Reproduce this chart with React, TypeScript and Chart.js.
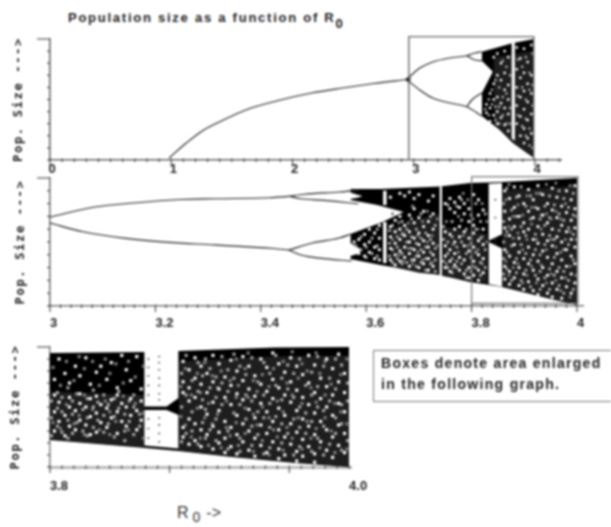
import React, { useEffect, useRef } from "react";
import { Chart, registerables } from "chart.js";

Chart.register(...registerables);

type P = [number, number];

// ---------- top panel (R0 0..4) ----------
const topTickValues = [0, 1, 2, 3, 4];
const topTickLabels = ["0", "1", "2", "3", "4"];
const topTrunk: P[] = [[0.983, 0.017], [1.124, 0.14], [1.256, 0.24], [1.413, 0.322], [1.636, 0.421], [1.901, 0.496], [2.157, 0.554], [2.413, 0.595], [2.669, 0.632], [2.942, 0.665]];
const topFork: P[] = [[2.955, 0.665]];
const topUpperA: P[] = [[2.942, 0.665], [3.05, 0.76], [3.157, 0.81], [3.298, 0.843], [3.438, 0.862], [3.504, 0.884], [3.562, 0.895]];
const topUpperB: P[] = [[3.438, 0.862], [3.504, 0.826], [3.562, 0.821]];
const topLowerA: P[] = [[2.942, 0.665], [3.05, 0.579], [3.157, 0.512], [3.298, 0.471], [3.438, 0.44], [3.562, 0.364]];
const topLowerB: P[] = [[3.438, 0.44], [3.479, 0.496], [3.562, 0.554]];
const topBandHigh: P[] = [[3.562, 0.895], [3.711, 0.936], [3.818, 0.967], [3.992, 1]];
const topBandLow: P[] = [[3.562, 0.364], [3.711, 0.248], [3.818, 0.14], [3.992, 0.017]];
const topLightHigh: P[] = [[3.66, 0.85], [3.99, 0.9]];
const topLightLow: P[] = [[3.66, 0.29], [3.711, 0.25], [3.818, 0.145], [3.99, 0.02]];
const topNotchHigh: P[] = [[3.55, 0.83], [3.562, 0.821], [3.653, 0.73]];
const topNotchLow: P[] = [[3.55, 0.545], [3.562, 0.554], [3.653, 0.73]];
const topWindowHigh: P[] = [[3.806, 0.98], [3.835, 0.98]];
const topWindowLow: P[] = [[3.806, 0.18], [3.835, 0.16]];
const topFrame: P[] = [[2.96, 0], [2.96, 1.02], [3.99, 1.02], [3.99, 0]];
const topSpecks: number[][] = [
  [3.6, 0.46, 0.39], [3.63, 0.55, 0.43, 0.32], [3.66, 0.85, 0.63, 0.5, 0.37], [3.69, 0.88, 0.7, 0.52, 0.4, 0.3],
  [3.72, 0.8, 0.66, 0.47, 0.35], [3.75, 0.9, 0.72, 0.58, 0.43, 0.29], [3.78, 0.85, 0.62, 0.5, 0.38, 0.24],
  [3.85, 0.93, 0.75, 0.6, 0.45, 0.3], [3.88, 0.84, 0.68, 0.52, 0.36, 0.2], [3.91, 0.92, 0.72, 0.57, 0.42, 0.26, 0.14],
  [3.94, 0.81, 0.63, 0.48, 0.33, 0.18], [3.97, 0.95, 0.7, 0.55, 0.38, 0.22],
];
const topSpecksDim: number[][] = [
  [3.59, 0.42], [3.62, 0.5, 0.37], [3.645, 0.58, 0.46], [3.675, 0.66, 0.44, 0.33], [3.705, 0.6, 0.44, 0.3],
  [3.735, 0.82, 0.52, 0.37], [3.765, 0.77, 0.55, 0.3], [3.795, 0.7, 0.43, 0.3], [3.86, 0.83, 0.53, 0.37],
  [3.895, 0.77, 0.6, 0.28], [3.925, 0.85, 0.5, 0.34, 0.2], [3.955, 0.72, 0.58, 0.26, 0.12], [3.98, 0.88, 0.62, 0.45, 0.1],
];

// ---------- middle panel (R0 3..4) ----------
const midTickValues = [3, 3.2, 3.4, 3.6, 3.8, 4];
const midTickLabels = ["3", "3.2", "3.4", "3.6", "3.8", "4"];
const midUpper: P[] = [[3, 0.695], [3.085, 0.773], [3.165, 0.807], [3.239, 0.83], [3.313, 0.838], [3.417, 0.846], [3.453, 0.857]];
const midUpperUp: P[] = [[3.453, 0.857], [3.483, 0.873], [3.549, 0.891], [3.585, 0.904]];
const midUpperDown: P[] = [[3.453, 0.857], [3.476, 0.838], [3.52, 0.825], [3.565, 0.807], [3.585, 0.797]];
const midLower: P[] = [[3, 0.648], [3.063, 0.58], [3.144, 0.528], [3.225, 0.497], [3.313, 0.477], [3.424, 0.449], [3.453, 0.437]];
const midLowerUp: P[] = [[3.453, 0.437], [3.498, 0.492], [3.549, 0.531], [3.572, 0.5625]];
const midLowerDown: P[] = [[3.453, 0.437], [3.476, 0.398], [3.52, 0.37], [3.572, 0.352]];
const midBandHigh: P[] = [[3.57, 0.914], [3.627, 0.914], [3.74, 0.934], [3.797, 0.961], [3.858, 0.969], [4, 1]];
const midBandLow: P[] = [[3.57, 0.367], [3.627, 0.32], [3.74, 0.242], [3.797, 0.1875], [3.858, 0.148], [3.958, 0.047], [4, 0.008]];
const midLightAHigh: P[] = [[3.645, 0.6], [3.7, 0.68], [3.739, 0.72]];
const midLightALow: P[] = [[3.645, 0.31], [3.7, 0.26], [3.739, 0.245]];
const midLightBHigh: P[] = [[3.745, 0.62], [3.83, 0.56]];
const midLightBLow: P[] = [[3.745, 0.235], [3.83, 0.18]];
const midLightCHigh: P[] = [[3.858, 0.9], [4, 0.94]];
const midLightCLow: P[] = [[3.858, 0.15], [3.958, 0.05], [4, 0.012]];
const midNotchHigh: P[] = [[3.56, 0.835], [3.57, 0.828], [3.621, 0.789], [3.671, 0.734]];
const midNotchLow: P[] = [[3.56, 0.55], [3.57, 0.5625], [3.631, 0.656], [3.671, 0.734]];
const midHoleAHigh: P[] = [[3.56, 0.895], [3.57, 0.887], [3.585, 0.867], [3.593, 0.859]];
const midHoleALow: P[] = [[3.56, 0.83], [3.57, 0.836], [3.585, 0.848], [3.593, 0.859]];
const midHoleBHigh: P[] = [[3.56, 0.5], [3.57, 0.492], [3.583, 0.461], [3.593, 0.4375]];
const midHoleBLow: P[] = [[3.56, 0.38], [3.57, 0.39], [3.583, 0.406], [3.593, 0.4375]];
const midWinAHigh: P[] = [[3.632, 0.9], [3.639, 0.9]];
const midWinALow: P[] = [[3.632, 0.79], [3.639, 0.79]];
const midWinBHigh: P[] = [[3.632, 0.656], [3.639, 0.656]];
const midWinBLow: P[] = [[3.632, 0.336], [3.639, 0.336]];
const midWinCHigh: P[] = [[3.739, 0.935], [3.744, 0.935]];
const midWinCLow: P[] = [[3.739, 0.24], [3.744, 0.24]];
const midWinDHigh: P[] = [[3.832, 0.955], [3.858, 0.96]];
const midWinDLow: P[] = [[3.832, 0.51], [3.858, 0.56]];
const midWinEHigh: P[] = [[3.832, 0.5], [3.858, 0.45]];
const midWinELow: P[] = [[3.832, 0.172], [3.858, 0.15]];
const midFrame: P[] = [[3.8, 0], [3.8, 1.01], [4.002, 1.01], [4.002, 0.02], [3.8, 0.02]];
const midDots: P[] = [[3.845, 0.83], [3.845, 0.69], [3.845, 0.52], [3.845, 0.49]];
const midSpecks: number[][] = [
  [3.577, 0.5, 0.43], [3.586, 0.52, 0.41], [3.597, 0.56, 0.48, 0.39], [3.606, 0.6, 0.5, 0.42], [3.616, 0.57, 0.46, 0.37],
  [3.625, 0.63, 0.53, 0.44, 0.36], [3.646, 0.62, 0.54, 0.45, 0.36, 0.85], [3.655, 0.67, 0.58, 0.49, 0.4, 0.32],
  [3.664, 0.7, 0.6, 0.52, 0.43, 0.35, 0.88], [3.673, 0.63, 0.55, 0.46, 0.38, 0.86], [3.682, 0.71, 0.58, 0.5, 0.41, 0.31, 0.89],
  [3.691, 0.76, 0.65, 0.53, 0.44, 0.36, 0.84], [3.7, 0.69, 0.57, 0.48, 0.39, 0.3, 0.87], [3.709, 0.74, 0.62, 0.51, 0.42, 0.33],
  [3.718, 0.66, 0.55, 0.46, 0.37, 0.28, 0.82], [3.727, 0.72, 0.6, 0.49, 0.4, 0.31, 0.86], [3.75, 0.8, 0.58, 0.47, 0.39, 0.3],
  [3.759, 0.84, 0.76, 0.56, 0.44, 0.35, 0.27], [3.768, 0.81, 0.73, 0.6, 0.5, 0.41, 0.32], [3.777, 0.85, 0.77, 0.62, 0.54, 0.38, 0.28],
  [3.786, 0.8, 0.72, 0.58, 0.47, 0.36, 0.25], [3.795, 0.76, 0.66, 0.53, 0.43, 0.3, 0.22], [3.804, 0.87, 0.63, 0.57, 0.46, 0.35, 0.24],
  [3.813, 0.83, 0.71, 0.51, 0.4, 0.28, 0.2], [3.822, 0.75, 0.6, 0.48, 0.37, 0.26], [3.863, 0.9, 0.74, 0.61, 0.44, 0.31, 0.21],
  [3.872, 0.84, 0.68, 0.55, 0.39, 0.27, 0.17], [3.881, 0.93, 0.77, 0.62, 0.48, 0.34, 0.22], [3.89, 0.86, 0.7, 0.53, 0.42, 0.3, 0.16],
  [3.899, 0.8, 0.65, 0.58, 0.37, 0.25, 0.13], [3.908, 0.91, 0.74, 0.6, 0.46, 0.33, 0.19], [3.917, 0.83, 0.69, 0.52, 0.4, 0.28, 0.12],
  [3.926, 0.94, 0.76, 0.62, 0.49, 0.35, 0.21, 0.09], [3.935, 0.87, 0.71, 0.56, 0.43, 0.3, 0.16], [3.944, 0.8, 0.65, 0.51, 0.38, 0.24, 0.1],
  [3.953, 0.92, 0.75, 0.6, 0.47, 0.33, 0.18, 0.07], [3.962, 0.85, 0.69, 0.54, 0.41, 0.27, 0.13], [3.971, 0.78, 0.63, 0.5, 0.36, 0.22, 0.06],
  [3.98, 0.9, 0.73, 0.58, 0.44, 0.31, 0.15], [3.989, 0.83, 0.67, 0.52, 0.39, 0.25, 0.1], [3.996, 0.94, 0.76, 0.61, 0.46, 0.33, 0.18],
];
const midSpecksDim: number[][] = [
  [3.58, 0.47], [3.59, 0.54, 0.44], [3.6, 0.46, 0.38], [3.611, 0.53, 0.41], [3.621, 0.6, 0.47, 0.39],
  [3.644, 0.59, 0.49, 0.39], [3.65, 0.63, 0.44, 0.34], [3.659, 0.54, 0.46, 0.37], [3.668, 0.66, 0.56, 0.41, 0.33],
  [3.677, 0.6, 0.5, 0.34], [3.686, 0.68, 0.54, 0.45, 0.36], [3.695, 0.6, 0.49, 0.39, 0.31], [3.704, 0.72, 0.53, 0.44, 0.34],
  [3.713, 0.57, 0.46, 0.37, 0.28], [3.722, 0.7, 0.52, 0.42, 0.33], [3.731, 0.63, 0.45, 0.36, 0.27],
  [3.747, 0.62, 0.52, 0.35], [3.755, 0.79, 0.5, 0.41, 0.3], [3.763, 0.66, 0.54, 0.37, 0.26], [3.772, 0.78, 0.46, 0.35, 0.3],
  [3.781, 0.83, 0.67, 0.5, 0.33], [3.79, 0.6, 0.41, 0.28, 0.22], [3.799, 0.71, 0.49, 0.38, 0.27], [3.808, 0.8, 0.6, 0.42, 0.3],
  [3.817, 0.66, 0.53, 0.34, 0.24], [3.826, 0.72, 0.44, 0.3],
  [3.861, 0.8, 0.66, 0.5, 0.37, 0.25], [3.867, 0.92, 0.58, 0.42, 0.29], [3.876, 0.75, 0.6, 0.47, 0.2], [3.885, 0.85, 0.7, 0.37, 0.26],
  [3.894, 0.93, 0.62, 0.48, 0.2], [3.903, 0.78, 0.55, 0.41, 0.28], [3.912, 0.86, 0.68, 0.36, 0.15], [3.921, 0.77, 0.56, 0.44, 0.24],
  [3.93, 0.88, 0.68, 0.4, 0.27, 0.13], [3.939, 0.78, 0.63, 0.48, 0.22], [3.948, 0.86, 0.69, 0.55, 0.29, 0.13], [3.957, 0.79, 0.52, 0.38, 0.24],
  [3.966, 0.9, 0.72, 0.59, 0.3, 0.16], [3.975, 0.84, 0.67, 0.44, 0.27, 0.1], [3.984, 0.77, 0.61, 0.48, 0.2], [3.993, 0.88, 0.71, 0.56, 0.36, 0.13],
];
const midSpecksExtra: number[][] = [
  [3.65, 0.72, 0.52], [3.662, 0.65, 0.4], [3.67, 0.57, 0.35], [3.68, 0.65, 0.45], [3.688, 0.78, 0.33], [3.698, 0.55, 0.42], [3.707, 0.66, 0.36],
  [3.716, 0.74, 0.5], [3.725, 0.55, 0.34], [3.735, 0.68, 0.47], [3.752, 0.66, 0.33], [3.765, 0.48, 0.3], [3.775, 0.7, 0.42], [3.784, 0.88, 0.55],
  [3.793, 0.83, 0.47], [3.803, 0.68, 0.31], [3.812, 0.6, 0.44], [3.82, 0.8, 0.54, 0.33], [3.829, 0.66, 0.5], [3.865, 0.83, 0.55, 0.35],
  [3.871, 0.95, 0.62, 0.24], [3.879, 0.7, 0.53, 0.3], [3.888, 0.79, 0.57, 0.33], [3.897, 0.71, 0.44, 0.18], [3.905, 0.86, 0.52, 0.24],
  [3.914, 0.77, 0.64, 0.31], [3.923, 0.88, 0.52, 0.18], [3.932, 0.71, 0.6, 0.32], [3.942, 0.95, 0.72, 0.44, 0.18], [3.951, 0.68, 0.52, 0.25],
  [3.96, 0.96, 0.74, 0.46, 0.2], [3.969, 0.68, 0.42, 0.12], [3.978, 0.8, 0.52, 0.22], [3.987, 0.94, 0.58, 0.31, 0.07], [3.998, 0.7, 0.52, 0.24],
];

// ---------- bottom panel (R0 3.8..4.0) ----------
const lowTickValues = [3.8, 4];
const lowTickLabels = ["3.8", "4.0"];
const lowBandHigh: P[] = [[3.8, 0.95], [3.864, 0.958], [3.886, 0.967], [3.95, 0.996], [4, 1]];
const lowBandLow: P[] = [[3.8, 0.225], [3.864, 0.158], [3.886, 0.133], [3.92, 0.086], [3.964, 0.033], [4, 0]];
const lowLightAHigh: P[] = [[3.8, 0.63], [3.863, 0.6]];
const lowLightALow: P[] = [[3.8, 0.23], [3.863, 0.165]];
const lowLightBHigh: P[] = [[3.886, 0.88], [3.95, 0.92], [4, 0.93]];
const lowLightBLow: P[] = [[3.886, 0.14], [3.92, 0.09], [3.964, 0.04], [4, 0.005]];
const lowWinAHigh: P[] = [[3.863, 0.97], [3.886, 0.97]];
const lowWinALow: P[] = [[3.863, 0.505], [3.878, 0.505], [3.886, 0.575]];
const lowWinBHigh: P[] = [[3.863, 0.475], [3.878, 0.475], [3.886, 0.433]];
const lowWinBLow: P[] = [[3.863, 0.18], [3.886, 0.155]];
const lowDots: P[] = [
  [3.8658, 0.9], [3.8658, 0.83], [3.8658, 0.76], [3.8658, 0.68], [3.8658, 0.6], [3.8658, 0.4], [3.8658, 0.32], [3.8658, 0.24],
  [3.873, 0.92], [3.873, 0.87], [3.873, 0.81], [3.873, 0.74], [3.873, 0.68], [3.873, 0.61], [3.873, 0.56], [3.873, 0.41], [3.873, 0.35], [3.873, 0.28], [3.873, 0.21],
];
const lowSpecks: number[][] = [
  [3.803, 0.73, 0.6, 0.46, 0.3], [3.806, 0.9, 0.54, 0.38], [3.81, 0.78, 0.43, 0.26], [3.813, 0.7, 0.58, 0.5, 0.34],
  [3.817, 0.84, 0.47, 0.31], [3.82, 0.76, 0.61, 0.53, 0.39], [3.824, 0.91, 0.5, 0.35], [3.827, 0.69, 0.57, 0.42, 0.27],
  [3.831, 0.79, 0.59, 0.45, 0.29], [3.834, 0.84, 0.52, 0.37], [3.838, 0.73, 0.49, 0.33], [3.841, 0.87, 0.56, 0.41],
  [3.845, 0.66, 0.6, 0.46, 0.28], [3.848, 0.93, 0.53, 0.38], [3.851, 0.81, 0.5, 0.34], [3.854, 0.72, 0.57, 0.43],
  [3.858, 0.92, 0.47, 0.31], [3.861, 0.65, 0.55, 0.39],
  [3.889, 0.88, 0.71, 0.62, 0.33, 0.25], [3.893, 0.81, 0.66, 0.55, 0.4, 0.19], [3.897, 0.91, 0.74, 0.58, 0.36, 0.22],
  [3.901, 0.84, 0.69, 0.5, 0.31, 0.17], [3.905, 0.78, 0.62, 0.44, 0.27], [3.909, 0.93, 0.71, 0.54, 0.34, 0.15],
  [3.913, 0.86, 0.65, 0.47, 0.29, 0.2], [3.917, 0.75, 0.58, 0.38, 0.24, 0.12], [3.921, 0.89, 0.68, 0.52, 0.33, 0.17],
  [3.925, 0.8, 0.61, 0.43, 0.27, 0.11], [3.929, 0.92, 0.72, 0.56, 0.36, 0.21], [3.933, 0.84, 0.65, 0.48, 0.3, 0.14],
  [3.937, 0.76, 0.59, 0.41, 0.24, 0.09], [3.941, 0.9, 0.69, 0.53, 0.35, 0.18], [3.945, 0.83, 0.63, 0.46, 0.28, 0.12],
  [3.949, 0.95, 0.73, 0.57, 0.38, 0.21], [3.953, 0.86, 0.66, 0.49, 0.31, 0.15, 0.07], [3.957, 0.79, 0.6, 0.43, 0.25, 0.1],
  [3.961, 0.91, 0.71, 0.54, 0.36, 0.19], [3.965, 0.84, 0.64, 0.47, 0.29, 0.13, 0.05], [3.969, 0.77, 0.58, 0.4, 0.23, 0.09],
  [3.973, 0.93, 0.7, 0.52, 0.34, 0.17], [3.977, 0.85, 0.62, 0.45, 0.27, 0.11, 0.04], [3.981, 0.74, 0.57, 0.38, 0.21],
  [3.985, 0.9, 0.67, 0.5, 0.31, 0.14], [3.989, 0.82, 0.6, 0.43, 0.25, 0.08], [3.993, 0.94, 0.71, 0.53, 0.35, 0.18],
  [3.997, 0.78, 0.62, 0.46, 0.28, 0.12],
];
const lowSpecksDim: number[][] = [
  [3.801, 0.55, 0.41, 0.26], [3.805, 0.62, 0.49, 0.34], [3.808, 0.58, 0.46, 0.29], [3.812, 0.66, 0.39, 0.24], [3.815, 0.55, 0.44, 0.28],
  [3.818, 0.61, 0.37], [3.822, 0.48, 0.3], [3.825, 0.57, 0.41, 0.26], [3.829, 0.64, 0.5, 0.33], [3.832, 0.54, 0.39], [3.836, 0.6, 0.43, 0.29],
  [3.839, 0.52, 0.36], [3.843, 0.57, 0.42, 0.25], [3.846, 0.63, 0.49], [3.85, 0.44, 0.3, 0.22], [3.853, 0.55, 0.38], [3.856, 0.6, 0.5, 0.27], [3.86, 0.44, 0.34],
  [3.888, 0.78, 0.5, 0.21], [3.891, 0.93, 0.6, 0.28], [3.895, 0.72, 0.46, 0.3], [3.899, 0.87, 0.63, 0.19], [3.902, 0.76, 0.56, 0.37],
  [3.904, 0.9, 0.48, 0.24], [3.907, 0.82, 0.66, 0.31], [3.911, 0.75, 0.58, 0.4, 0.22], [3.915, 0.92, 0.7, 0.52], [3.919, 0.81, 0.63, 0.3, 0.15],
  [3.923, 0.94, 0.74, 0.45], [3.927, 0.84, 0.52, 0.24, 0.13], [3.931, 0.77, 0.6, 0.4], [3.935, 0.91, 0.55, 0.34, 0.18], [3.939, 0.71, 0.46, 0.27],
  [3.943, 0.87, 0.6, 0.41, 0.11], [3.947, 0.78, 0.53, 0.33, 0.16], [3.951, 0.93, 0.68, 0.42], [3.955, 0.74, 0.56, 0.36, 0.2], [3.959, 0.85, 0.65, 0.28],
  [3.963, 0.78, 0.58, 0.4, 0.1], [3.967, 0.9, 0.5, 0.33, 0.17], [3.971, 0.68, 0.45, 0.28], [3.975, 0.79, 0.6, 0.38, 0.13], [3.979, 0.92, 0.67, 0.5, 0.24],
  [3.983, 0.84, 0.47, 0.34, 0.1], [3.987, 0.74, 0.55, 0.19], [3.991, 0.9, 0.65, 0.41, 0.28], [3.995, 0.85, 0.52, 0.36, 0.14], [3.999, 0.7, 0.55, 0.22],
];
const lowSpecksExtra: number[][] = [
  [3.802, 0.83, 0.37], [3.807, 0.68, 0.32], [3.811, 0.88, 0.52], [3.816, 0.72, 0.36], [3.8195, 0.92, 0.43], [3.823, 0.82, 0.6, 0.27],
  [3.8285, 0.88, 0.48], [3.833, 0.68, 0.31], [3.837, 0.9, 0.55], [3.84, 0.78, 0.46, 0.27], [3.844, 0.86, 0.38], [3.849, 0.7, 0.59],
  [3.8525, 0.88, 0.31], [3.857, 0.75, 0.53], [3.8625, 0.84, 0.45, 0.24],
  [3.8875, 0.67, 0.42], [3.8905, 0.35, 0.82], [3.8945, 0.25, 0.6], [3.8985, 0.49, 0.78], [3.9005, 0.62, 0.24], [3.9035, 0.87, 0.41], [3.906, 0.53, 0.18],
  [3.9085, 0.76, 0.36], [3.912, 0.44, 0.66], [3.9145, 0.16, 0.8], [3.918, 0.55, 0.33], [3.9205, 0.72, 0.26], [3.9245, 0.58, 0.37, 0.9], [3.926, 0.68, 0.18],
  [3.9305, 0.49, 0.28, 0.82], [3.9325, 0.58, 0.95], [3.936, 0.72, 0.44, 0.13], [3.9385, 0.63, 0.35], [3.942, 0.77, 0.5, 0.22], [3.9465, 0.67, 0.41, 0.1],
  [3.9495, 0.31, 0.82], [3.952, 0.55, 0.25], [3.956, 0.88, 0.46, 0.14], [3.9585, 0.7, 0.33], [3.962, 0.6, 0.24, 0.96], [3.966, 0.74, 0.41], [3.9685, 0.53, 0.15, 0.86],
  [3.972, 0.8, 0.38], [3.9745, 0.66, 0.24], [3.978, 0.54, 0.32, 0.95], [3.9805, 0.78, 0.16], [3.984, 0.6, 0.41, 0.88], [3.988, 0.69, 0.3], [3.9905, 0.53, 0.12],
  [3.9945, 0.77, 0.46], [3.9985, 0.9, 0.36, 0.15],
];

const yTitle = "Pop. Size --->";
const FONT = "'Liberation Sans', Arial, sans-serif";
const SPECK = "#fff";
const SPECK_DIM = "#a8a8a8";
const SPECK_SOFT = "#808080";
const LIGHT = "#1e1e1e";

const toPts = (cols: number[][]) => cols.flatMap(([x, ...ys]) => ys.map((y) => ({ x, y })));
const xy = (p: P[]) => p.map(([x, y]) => ({ x, y }));

const frame = (p: P[], width: number, color: string) => ({
  data: xy(p), showLine: true, fill: false, borderColor: color, borderWidth: width, pointRadius: 0, tension: 0, clip: false,
});
const line = (p: P[]) => ({
  data: xy(p), showLine: true, fill: false, borderColor: "#222", borderWidth: 1.15, pointRadius: 0, cubicInterpolationMode: "monotone", clip: false,
});
const band = (hi: P[], lo: P[], color: string) => [
  { data: xy(hi), showLine: true, fill: "+1", backgroundColor: color, borderWidth: 0, pointRadius: 0, tension: 0 },
  { data: xy(lo), showLine: true, fill: false, borderWidth: 0, pointRadius: 0, tension: 0 },
];
const dots = (pts: { x: number; y: number }[], color: string, r: number, style = "circle") => ({
  data: pts, showLine: false, pointRadius: r, pointStyle: style, pointBackgroundColor: color, pointBorderWidth: 0,
});

type Panel = {
  top: number; height: number; padTop: number; padRight: number; xHeight: number;
  min: number; max: number; step: number; majorEvery: number;
  values: number[]; labels: string[]; labelOffset: number; padTick: number;
  titlePad: number; axisColor: string; axisWidth: number;
  datasets: any[];
};

const panels: Panel[] = [
  {
    top: 30, height: 150, padTop: 9, padRight: 50, xHeight: 20, min: 0, max: 4.215, step: 0.1, majorEvery: 10,
    values: topTickValues, labels: topTickLabels, labelOffset: -1.5, padTick: 2, titlePad: 12, axisColor: "#666", axisWidth: 1.6,
    datasets: [
      frame(topFrame, 1.4, "#666"),
      line(topTrunk), line(topUpperA), line(topUpperB), line(topLowerA), line(topLowerB),
      dots(xy(topFork), "#000", 2.4),
      dots(toPts(topSpecks), SPECK, 1.7, "rect"),
      dots(toPts(topSpecksDim), SPECK_DIM, 1.7, "rect"),
      ...band(topWindowHigh, topWindowLow, "#fff"),
      ...band(topNotchHigh, topNotchLow, "#fff"),
      ...band(topLightHigh, topLightLow, LIGHT),
      ...band(topBandHigh, topBandLow, "#000"),
    ],
  },
  {
    top: 170, height: 170, padTop: 8, padRight: 28, xHeight: 34, min: 3, max: 4.0114, step: 0.02, majorEvery: 10,
    values: midTickValues, labels: midTickLabels, labelOffset: 0, padTick: 10, titlePad: 14, axisColor: "#777", axisWidth: 1.6,
    datasets: [
      frame(midFrame, 1.2, "#777"),
      line(midUpper), line(midUpperUp), line(midUpperDown), line(midLower), line(midLowerUp), line(midLowerDown),
      dots(xy(midDots), "#444", 0.9),
      dots(toPts(midSpecks), SPECK, 2, "rect"),
      dots(toPts(midSpecksDim), SPECK_DIM, 2, "rect"),
      dots(toPts(midSpecksExtra), SPECK_SOFT, 2, "rect"),
      ...band(midWinAHigh, midWinALow, "#fff"),
      ...band(midWinBHigh, midWinBLow, "#fff"),
      ...band(midWinCHigh, midWinCLow, "#fff"),
      ...band(midWinDHigh, midWinDLow, "#fff"),
      ...band(midWinEHigh, midWinELow, "#fff"),
      ...band(midHoleAHigh, midHoleALow, "#fff"),
      ...band(midHoleBHigh, midHoleBLow, "#fff"),
      ...band(midNotchHigh, midNotchLow, "#fff"),
      ...band(midLightAHigh, midLightALow, LIGHT),
      ...band(midLightBHigh, midLightBLow, LIGHT),
      ...band(midLightCHigh, midLightCLow, LIGHT),
      ...band(midBandHigh, midBandLow, "#000"),
    ],
  },
  {
    top: 340, height: 160, padTop: 7, padRight: 260, xHeight: 33, min: 3.8, max: 4.0013, step: 0.008, majorEvery: 10,
    values: lowTickValues, labels: lowTickLabels, labelOffset: 0, padTick: 12, titlePad: 9, axisColor: "#bbb", axisWidth: 3,
    datasets: [
      dots(xy(lowDots), "#333", 0.9),
      dots(toPts(lowSpecks), SPECK, 2.2, "rect"),
      dots(toPts(lowSpecksDim), SPECK_DIM, 2.2, "rect"),
      dots(toPts(lowSpecksExtra), SPECK_SOFT, 2.2, "rect"),
      ...band(lowWinAHigh, lowWinALow, "#fff"),
      ...band(lowWinBHigh, lowWinBLow, "#fff"),
      ...band(lowLightAHigh, lowLightALow, LIGHT),
      ...band(lowLightBHigh, lowLightBLow, LIGHT),
      ...band(lowBandHigh, lowBandLow, "#000"),
    ],
  },
];

function PanelChart({ panel }: { panel: Panel }) {
  const ref = useRef<HTMLCanvasElement>(null);
  useEffect(() => {
    const marks = {
      id: "marks",
      beforeDraw(chart: any) {
        const s = chart.scales.y;
        if (!s.__patched) {
          const orig = s.drawTitle;
          s.drawTitle = function () {
            chart.ctx.letterSpacing = "1.7px";
            orig.call(this);
            chart.ctx.letterSpacing = "0px";
          };
          s.__patched = true;
        }
      },
      afterDraw(chart: any) {
        const { ctx, scales } = chart;
        const xS = scales.x, yS = scales.y;
        ctx.save();
        ctx.strokeStyle = "#333";
        ctx.lineWidth = 1;
        const base = yS.bottom;
        xS.ticks.forEach((t: any, i: number) => {
          const px = xS.getPixelForTick(i);
          const major = i % panel.majorEvery === 0;
          ctx.beginPath();
          ctx.moveTo(px, base - 1.5);
          ctx.lineTo(px, base + (major ? 6 : 2));
          ctx.stroke();
        });
        const left = xS.left;
        yS.ticks.forEach((t: any, i: number) => {
          const py = yS.getPixelForTick(i);
          ctx.beginPath();
          ctx.moveTo(left, py);
          ctx.lineTo(left - (t.value >= 0.999 ? 13 : 3), py);
          ctx.stroke();
        });
        ctx.restore();
      },
    };
    const chart = new Chart(ref.current as HTMLCanvasElement, {
      type: "scatter",
      data: { datasets: panel.datasets },
      plugins: [marks],
      options: {
        animation: false,
        responsive: false,
        devicePixelRatio: 1,
        layout: { autoPadding: false, padding: { top: panel.padTop, right: panel.padRight, left: 0, bottom: 0 } },
        plugins: { legend: { display: false }, tooltip: { enabled: false } },
        events: [],
        scales: {
          x: {
            type: "linear", min: panel.min, max: panel.max,
            afterFit: (s: any) => { s.height = panel.xHeight; },
            grid: { display: false, drawTicks: false },
            border: { display: true, color: panel.axisColor, width: panel.axisWidth },
            ticks: {
              stepSize: panel.step, autoSkip: false, maxRotation: 0, includeBounds: false, align: "start",
              labelOffset: panel.labelOffset, padding: panel.padTick,
              color: "#222", font: { family: FONT, weight: "bold", size: 13 },
              callback: (v: any) => {
                const i = panel.values.findIndex((u) => Math.abs(u - Number(v)) < 1e-6);
                return i >= 0 ? panel.labels[i] : "";
              },
            },
          },
          y: {
            type: "linear", min: 0, max: 1,
            afterFit: (s: any) => { s.width = 50; },
            grid: { display: false, drawTicks: false },
            border: { display: true, color: panel.axisColor === "#bbb" ? "#888" : panel.axisColor, width: 1.6 },
            ticks: { stepSize: 0.1, display: false },
            title: {
              display: true, text: yTitle, color: "#222", padding: { top: panel.titlePad, bottom: 0 },
              font: { family: "'DejaVu Sans Mono', monospace", weight: "bold", size: 12 },
            },
          },
        },
      } as any,
    });
    return () => chart.destroy();
  }, [panel]);
  return (
    <canvas
      ref={ref}
      width={611}
      height={panel.height}
      style={{ position: "absolute", left: 0, top: panel.top, width: 611, height: panel.height }}
    />
  );
}

const textBase: React.CSSProperties = { position: "absolute", whiteSpace: "nowrap", fontFamily: FONT, color: "#222" };

export default function App() {
  return (
    <div style={{ position: "absolute", left: 0, top: 0, width: 611, height: 527, background: "#fff", overflow: "hidden", filter: "blur(0.8px)" }}>
      <div style={{ ...textBase, left: 68, top: 10, fontSize: 13, fontWeight: "bold", letterSpacing: "1.75px" }}>
        Population size as a function of R<sub style={{ fontSize: 13, position: "relative", top: 2, verticalAlign: "sub", lineHeight: 0 }}>0</sub>
      </div>
      {panels.map((p, i) => <PanelChart key={i} panel={p} />)}
      <div style={{ position: "absolute", left: 373, top: 350, width: 240, height: 50, border: "1.5px solid #777", boxSizing: "content-box" }} />
      <div style={{ ...textBase, left: 381, top: 353, fontSize: 14, fontWeight: "bold", letterSpacing: "1.3px", lineHeight: "21px" }}>
        Boxes denote area enlarged<br />in the following graph.
      </div>
      <div style={{ ...textBase, left: 177, top: 504, fontSize: 16, color: "#333" }}>
        R<sub style={{ fontSize: 14, marginLeft: 4, marginRight: 6, lineHeight: 0 }}>0</sub>-&gt;
      </div>
    </div>
  );
}
